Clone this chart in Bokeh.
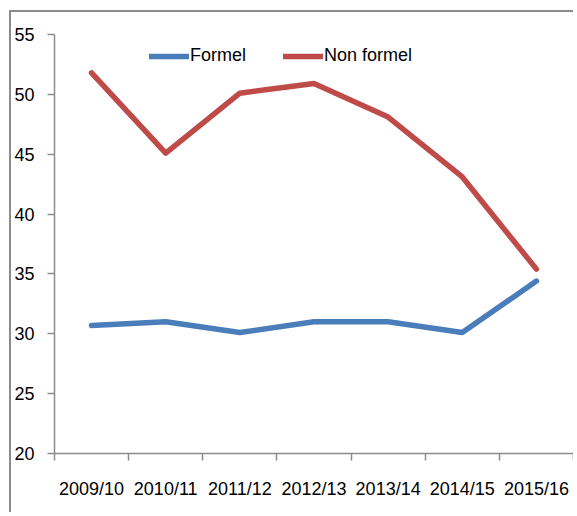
from bokeh.plotting import figure
from bokeh.models import Range1d, FixedTicker, Legend, LegendItem, LinearAxis
from bokeh.embed import file_html
from bokeh.resources import INLINE

categories = ["2009/10", "2010/11", "2011/12", "2012/13", "2013/14", "2014/15", "2015/16"]
formel = [30.7, 31.0, 30.1, 31.0, 31.0, 30.1, 34.4]
non_formel = [51.8, 45.1, 50.1, 50.9, 48.1, 43.1, 35.4]
y_ticks = [20, 25, 30, 35, 40, 45, 50, 55]

FONT = "Liberation Sans"
AXIS_COLOR = "#8c8c8c"

x = list(range(len(categories)))
n = len(categories)

p = figure(width=564, height=502, output_backend="svg", toolbar_location=None,
           x_range=Range1d(-0.5, n - 0.5), y_range=Range1d(20, 55),
           x_axis_type=None, y_axis_type=None,
           min_border_left=42, min_border_right=2, min_border_top=22, min_border_bottom=61)
p.background_fill_color = "white"
p.border_fill_color = "white"
p.outline_line_color = None
p.xgrid.visible = False
p.ygrid.visible = False
p.styles = {"margin-left": "9px", "margin-top": "10px",
            "border-left": "2px solid #8c8c8c", "border-top": "2px solid #8c8c8c"}

# x axis: labels at category centres, ticks at category boundaries
xaxis = LinearAxis(ticker=FixedTicker(ticks=x, minor_ticks=[i - 0.5 for i in range(n + 1)]))
xaxis.major_label_overrides = {i: c for i, c in enumerate(categories)}
xaxis.major_tick_line_color = None
xaxis.major_tick_out = 7
xaxis.major_tick_in = 0
xaxis.minor_tick_out = 7
xaxis.minor_tick_in = 0
xaxis.minor_tick_line_color = AXIS_COLOR
xaxis.minor_tick_line_width = 1.5
xaxis.axis_line_color = AXIS_COLOR
xaxis.axis_line_width = 1.5
xaxis.major_label_standoff = 18
xaxis.major_label_text_font = FONT
xaxis.major_label_text_font_size = "18px"
xaxis.major_label_text_color = "black"
p.add_layout(xaxis, "below")

yaxis = LinearAxis(ticker=FixedTicker(ticks=y_ticks, minor_ticks=[]))
yaxis.major_tick_out = 7
yaxis.major_tick_in = 0
yaxis.major_tick_line_color = AXIS_COLOR
yaxis.major_tick_line_width = 1.5
yaxis.minor_tick_line_color = None
yaxis.axis_line_color = AXIS_COLOR
yaxis.axis_line_width = 1.5
yaxis.major_label_standoff = 13
yaxis.major_label_text_font = FONT
yaxis.major_label_text_font_size = "18px"
yaxis.major_label_text_color = "black"
p.add_layout(yaxis, "left")

r1 = p.line(x, formel, line_color="#4a7ebb", line_width=5.5, line_cap="round", line_join="round")
r2 = p.line(x, non_formel, line_color="#be4b48", line_width=5.5, line_cap="round", line_join="round")

legend = Legend(items=[LegendItem(label="Formel", renderers=[r1]),
                       LegendItem(label="Non formel", renderers=[r2])],
                orientation="horizontal", location=(95, 387),
                border_line_color=None, background_fill_alpha=0,
                glyph_width=40, glyph_height=20, label_standoff=1, spacing=37,
                padding=0, margin=0,
                label_text_font=FONT, label_text_font_size="18px", label_text_color="black")
p.add_layout(legend, "center")

open("out.html", "w").write(file_html(p, INLINE))
